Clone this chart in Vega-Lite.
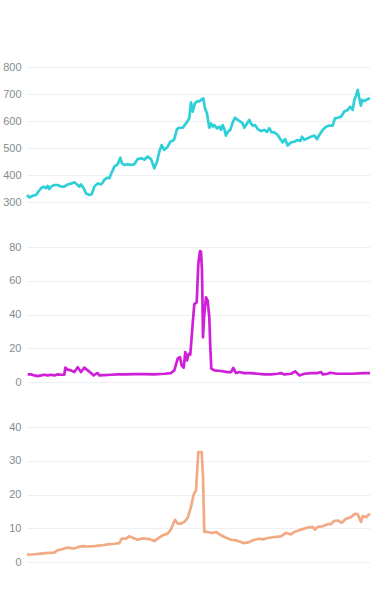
{
  "$schema": "https://vega.github.io/schema/vega-lite/v6.json",
  "autosize": {"type": "pad"},
  "padding": {"left": 2, "top": 61, "right": 0, "bottom": 0},
  "background": "white",
  "bounds": "flush",
  "spacing": 45,
  "config": {
    "view": {"stroke": null},
    "axis": {"labelFont": "Liberation Sans", "labelFontSize": 11, "labelColor": "#7f8d8f", "gridColor": "#eef1f3", "gridWidth": 1, "domain": false, "ticks": false, "labelPadding": 6, "title": null}
  },
  "datasets": {
    "a": [
      {"t": 0, "v": 326}, {"t": 2.3, "v": 317}, {"t": 5.7, "v": 323}, {"t": 9, "v": 326}, {"t": 11.3, "v": 338}, {"t": 14, "v": 351}, {"t": 16.7, "v": 357}, {"t": 19, "v": 351}, {"t": 20.7, "v": 360}, {"t": 22.3, "v": 348}, {"t": 24, "v": 357}, {"t": 27.3, "v": 363}, {"t": 30.7, "v": 363}, {"t": 34, "v": 357}, {"t": 37.3, "v": 357}, {"t": 40.7, "v": 365}, {"t": 44, "v": 368}, {"t": 47.3, "v": 373}, {"t": 50, "v": 365}, {"t": 52.3, "v": 357}, {"t": 54, "v": 365}, {"t": 56.7, "v": 351}, {"t": 59, "v": 332}, {"t": 62.3, "v": 326}, {"t": 64.7, "v": 328}, {"t": 67.3, "v": 357}, {"t": 70.7, "v": 369}, {"t": 74, "v": 365}, {"t": 75.7, "v": 372}, {"t": 77.3, "v": 382}, {"t": 80, "v": 390}, {"t": 82.3, "v": 388}, {"t": 84, "v": 403}, {"t": 87.3, "v": 431}, {"t": 90.7, "v": 440}, {"t": 93.3, "v": 464}, {"t": 95, "v": 443}, {"t": 97.3, "v": 437}, {"t": 100.7, "v": 440}, {"t": 104, "v": 437}, {"t": 107.3, "v": 440}, {"t": 110.7, "v": 459}, {"t": 114, "v": 462}, {"t": 117.3, "v": 457}, {"t": 120.7, "v": 468}, {"t": 124, "v": 459}, {"t": 127.3, "v": 425}, {"t": 130, "v": 449}, {"t": 132.3, "v": 486}, {"t": 134.7, "v": 511}, {"t": 137.3, "v": 493}, {"t": 140.7, "v": 505}, {"t": 143.3, "v": 524}, {"t": 145.7, "v": 526}, {"t": 147.3, "v": 533}, {"t": 150, "v": 570}, {"t": 152.3, "v": 575}, {"t": 155.7, "v": 575}, {"t": 159, "v": 591}, {"t": 162.3, "v": 610}, {"t": 164, "v": 669}, {"t": 165.7, "v": 635}, {"t": 168, "v": 666}, {"t": 170.7, "v": 674}, {"t": 172.3, "v": 672}, {"t": 174, "v": 678}, {"t": 176.3, "v": 684}, {"t": 178, "v": 647}, {"t": 180, "v": 628}, {"t": 182.3, "v": 575}, {"t": 184, "v": 591}, {"t": 185.7, "v": 579}, {"t": 187.3, "v": 585}, {"t": 190, "v": 573}, {"t": 192.3, "v": 579}, {"t": 194, "v": 567}, {"t": 195.7, "v": 585}, {"t": 197.3, "v": 570}, {"t": 199, "v": 546}, {"t": 200.7, "v": 560}, {"t": 203.3, "v": 567}, {"t": 205.7, "v": 595}, {"t": 208, "v": 612}, {"t": 210.7, "v": 604}, {"t": 213.3, "v": 598}, {"t": 215.7, "v": 591}, {"t": 217.3, "v": 575}, {"t": 220, "v": 591}, {"t": 222.3, "v": 604}, {"t": 224, "v": 591}, {"t": 225.7, "v": 583}, {"t": 228, "v": 585}, {"t": 230.7, "v": 570}, {"t": 234, "v": 563}, {"t": 237.3, "v": 567}, {"t": 240, "v": 560}, {"t": 242.3, "v": 573}, {"t": 244.7, "v": 558}, {"t": 247.3, "v": 558}, {"t": 250.7, "v": 548}, {"t": 253.3, "v": 533}, {"t": 255.7, "v": 521}, {"t": 258, "v": 533}, {"t": 260.7, "v": 509}, {"t": 264, "v": 521}, {"t": 267.3, "v": 523}, {"t": 270.7, "v": 530}, {"t": 273.3, "v": 526}, {"t": 275, "v": 542}, {"t": 277.3, "v": 530}, {"t": 280.7, "v": 536}, {"t": 284, "v": 542}, {"t": 287.3, "v": 546}, {"t": 290, "v": 533}, {"t": 292.3, "v": 548}, {"t": 295.7, "v": 567}, {"t": 299, "v": 579}, {"t": 302.3, "v": 583}, {"t": 305.7, "v": 583}, {"t": 308, "v": 610}, {"t": 310.7, "v": 612}, {"t": 314, "v": 616}, {"t": 317.3, "v": 635}, {"t": 320.7, "v": 641}, {"t": 323.3, "v": 653}, {"t": 325.7, "v": 641}, {"t": 327.3, "v": 678}, {"t": 329, "v": 694}, {"t": 330.7, "v": 715}, {"t": 332.3, "v": 684}, {"t": 334, "v": 657}, {"t": 335, "v": 678}, {"t": 337.3, "v": 674}, {"t": 340.7, "v": 681}, {"t": 343, "v": 684}
    ],
    "b": [
      {"t": 0.7, "v": 4.5}, {"t": 4, "v": 4.5}, {"t": 7.3, "v": 3.9}, {"t": 10.7, "v": 3.5}, {"t": 14, "v": 3.9}, {"t": 17.3, "v": 4.3}, {"t": 20.7, "v": 3.9}, {"t": 24, "v": 4.3}, {"t": 27.3, "v": 3.9}, {"t": 30.7, "v": 4.5}, {"t": 34, "v": 4.3}, {"t": 37.3, "v": 4.3}, {"t": 38.3, "v": 8.5}, {"t": 40.7, "v": 7.3}, {"t": 44, "v": 6.9}, {"t": 47.3, "v": 5.9}, {"t": 50.7, "v": 8.8}, {"t": 54, "v": 5.9}, {"t": 57.3, "v": 8.5}, {"t": 60.7, "v": 6.9}, {"t": 64, "v": 5.3}, {"t": 66.7, "v": 3.9}, {"t": 69, "v": 4.9}, {"t": 70.7, "v": 5.3}, {"t": 72.3, "v": 3.9}, {"t": 77.3, "v": 4.1}, {"t": 84, "v": 4.3}, {"t": 90.7, "v": 4.5}, {"t": 97.3, "v": 4.5}, {"t": 107.3, "v": 4.7}, {"t": 117.3, "v": 4.7}, {"t": 127.3, "v": 4.5}, {"t": 137.3, "v": 4.9}, {"t": 144, "v": 5.3}, {"t": 147.3, "v": 6.9}, {"t": 150.7, "v": 13.8}, {"t": 153, "v": 14.7}, {"t": 154.7, "v": 9.8}, {"t": 156.7, "v": 8.5}, {"t": 158.3, "v": 17.7}, {"t": 160, "v": 12.8}, {"t": 161.7, "v": 16.7}, {"t": 163.3, "v": 16.3}, {"t": 165.7, "v": 34.4}, {"t": 167.3, "v": 46.2}, {"t": 169.7, "v": 47.2}, {"t": 171.3, "v": 69.8}, {"t": 173, "v": 77.6}, {"t": 174, "v": 77.2}, {"t": 175, "v": 65.8}, {"t": 176, "v": 26.5}, {"t": 177.3, "v": 40.3}, {"t": 179, "v": 50.1}, {"t": 180.7, "v": 48.2}, {"t": 182.3, "v": 38.3}, {"t": 183.3, "v": 20.6}, {"t": 184.3, "v": 7.9}, {"t": 187.3, "v": 6.9}, {"t": 194, "v": 6.5}, {"t": 200.7, "v": 5.9}, {"t": 204, "v": 5.9}, {"t": 206.3, "v": 8.3}, {"t": 209, "v": 5.3}, {"t": 212.3, "v": 5.9}, {"t": 217.3, "v": 5.3}, {"t": 224, "v": 5.3}, {"t": 230.7, "v": 4.9}, {"t": 237.3, "v": 4.5}, {"t": 244, "v": 4.5}, {"t": 250.7, "v": 4.9}, {"t": 254, "v": 5.3}, {"t": 257.3, "v": 4.5}, {"t": 264, "v": 4.9}, {"t": 268.3, "v": 6.3}, {"t": 272.3, "v": 3.9}, {"t": 277.3, "v": 4.9}, {"t": 284, "v": 5.3}, {"t": 290.7, "v": 5.3}, {"t": 294, "v": 5.9}, {"t": 295.7, "v": 4.5}, {"t": 300.7, "v": 4.9}, {"t": 303, "v": 5.5}, {"t": 310.7, "v": 4.9}, {"t": 324, "v": 4.9}, {"t": 337.3, "v": 5.3}, {"t": 343, "v": 5.3}
    ],
    "c": [
      {"t": 0, "v": 2.2}, {"t": 7.3, "v": 2.3}, {"t": 14, "v": 2.5}, {"t": 20.7, "v": 2.7}, {"t": 27.3, "v": 2.8}, {"t": 30.7, "v": 3.5}, {"t": 34, "v": 3.7}, {"t": 37.3, "v": 4.0}, {"t": 40.7, "v": 4.3}, {"t": 44, "v": 4.1}, {"t": 47.3, "v": 4.0}, {"t": 50.7, "v": 4.4}, {"t": 55.7, "v": 4.7}, {"t": 60.7, "v": 4.6}, {"t": 67.3, "v": 4.7}, {"t": 74, "v": 4.9}, {"t": 80.7, "v": 5.2}, {"t": 87.3, "v": 5.4}, {"t": 92.3, "v": 5.6}, {"t": 94.7, "v": 6.9}, {"t": 99, "v": 6.9}, {"t": 102.3, "v": 7.6}, {"t": 105.7, "v": 7.2}, {"t": 110.7, "v": 6.6}, {"t": 115.7, "v": 7.0}, {"t": 122.3, "v": 6.8}, {"t": 127.3, "v": 6.2}, {"t": 130.7, "v": 6.9}, {"t": 135.7, "v": 7.9}, {"t": 140.7, "v": 8.4}, {"t": 144, "v": 9.7}, {"t": 148, "v": 12.5}, {"t": 150.7, "v": 11.4}, {"t": 154, "v": 11.4}, {"t": 157.3, "v": 11.9}, {"t": 160.7, "v": 13.1}, {"t": 164, "v": 16.3}, {"t": 166.7, "v": 20.1}, {"t": 169, "v": 21.2}, {"t": 171.3, "v": 32.6}, {"t": 174.7, "v": 32.6}, {"t": 176, "v": 25.2}, {"t": 177.3, "v": 8.9}, {"t": 180.7, "v": 8.9}, {"t": 185.7, "v": 8.6}, {"t": 189, "v": 8.9}, {"t": 194, "v": 7.9}, {"t": 199, "v": 7.2}, {"t": 204, "v": 6.6}, {"t": 209, "v": 6.4}, {"t": 214, "v": 5.9}, {"t": 217.3, "v": 5.6}, {"t": 222.3, "v": 5.9}, {"t": 227.3, "v": 6.6}, {"t": 232.3, "v": 6.9}, {"t": 235.7, "v": 6.7}, {"t": 240.7, "v": 7.1}, {"t": 247.3, "v": 7.4}, {"t": 254, "v": 7.6}, {"t": 259, "v": 8.6}, {"t": 264, "v": 8.2}, {"t": 267.3, "v": 8.9}, {"t": 274, "v": 9.6}, {"t": 280.7, "v": 10.2}, {"t": 285.7, "v": 10.4}, {"t": 288, "v": 9.6}, {"t": 290.7, "v": 10.4}, {"t": 295.7, "v": 10.6}, {"t": 300.7, "v": 11.2}, {"t": 304, "v": 11.2}, {"t": 306.7, "v": 12.1}, {"t": 310.7, "v": 12.3}, {"t": 314.7, "v": 11.6}, {"t": 319, "v": 12.8}, {"t": 324, "v": 13.3}, {"t": 328, "v": 14.3}, {"t": 330.7, "v": 14.1}, {"t": 334, "v": 11.9}, {"t": 335.7, "v": 13.6}, {"t": 339, "v": 13.3}, {"t": 343, "v": 14.3}
    ]
  },
  "vconcat": [
    {
      "width": 343, "height": 135,
      "data": {"name": "a"},
      "mark": {"type": "line", "color": "#2fcfd8", "strokeWidth": 2.7, "strokeJoin": "round"},
      "encoding": {
        "x": {"field": "t", "type": "quantitative", "axis": null, "scale": {"domain": [0, 343]}},
        "y": {"field": "v", "type": "quantitative", "scale": {"domain": [300, 800], "nice": false, "zero": false}, "axis": {"values": [300, 400, 500, 600, 700, 800]}}
      }
    },
    {
      "width": 343, "height": 135,
      "data": {"name": "b"},
      "mark": {"type": "line", "color": "#cf1fd8", "strokeWidth": 2.7, "strokeJoin": "round"},
      "encoding": {
        "x": {"field": "t", "type": "quantitative", "axis": null, "scale": {"domain": [0, 343]}},
        "y": {"field": "v", "type": "quantitative", "scale": {"domain": [0, 80], "nice": false}, "axis": {"values": [0, 20, 40, 60, 80]}}
      }
    },
    {
      "width": 343, "height": 135,
      "data": {"name": "c"},
      "mark": {"type": "line", "color": "#f2aa85", "strokeWidth": 2.7, "strokeJoin": "round"},
      "encoding": {
        "x": {"field": "t", "type": "quantitative", "axis": null, "scale": {"domain": [0, 343]}},
        "y": {"field": "v", "type": "quantitative", "scale": {"domain": [0, 40], "nice": false}, "axis": {"values": [0, 10, 20, 30, 40]}}
      }
    }
  ]
}
